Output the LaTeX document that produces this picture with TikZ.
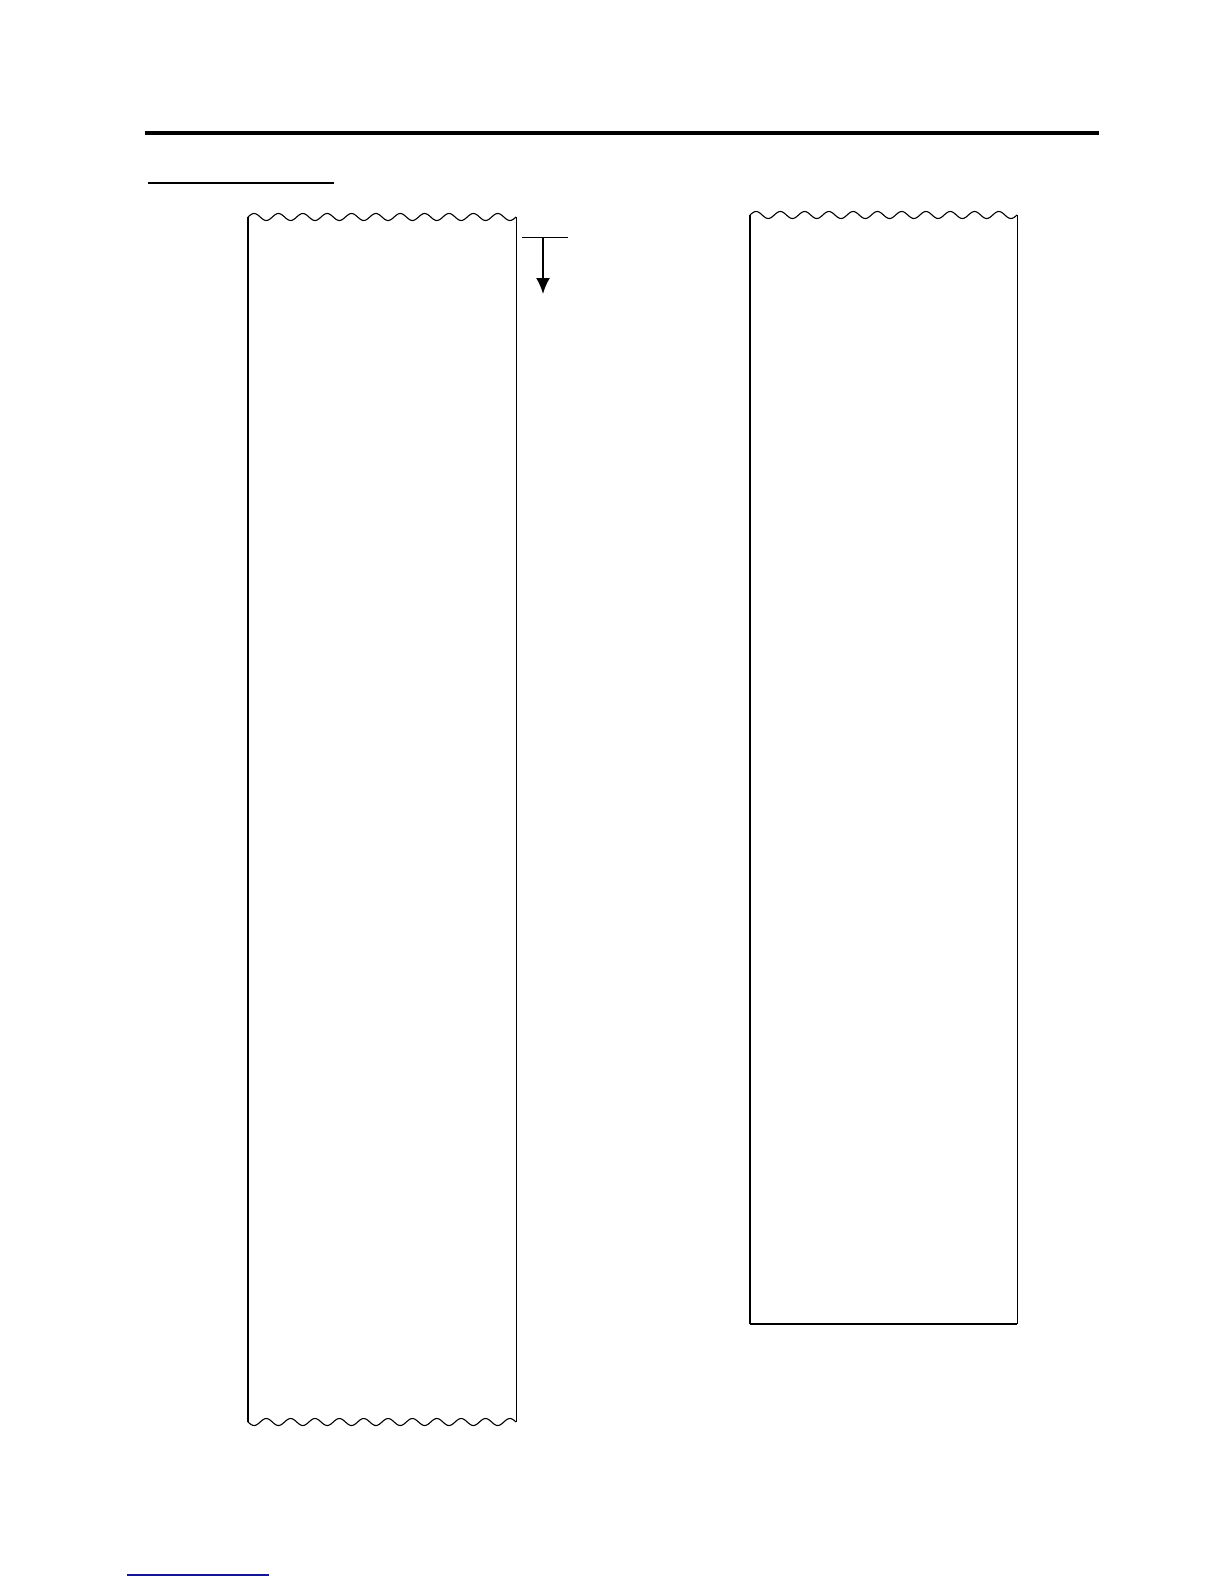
\documentclass[tikz,border=0pt]{standalone}
\usepackage{tikz}
\usetikzlibrary{arrows.meta}
\definecolor{linkblue}{RGB}{20,20,150}

\begin{document}
\begin{tikzpicture}[x=0.5pt,y=-0.5pt,
    edge/.style={line width=1pt},
    thinedge/.style={line width=0.5pt},
    wave/.style={line width=0.55pt}]
            \useasboundingbox (0,0) rectangle (1224,1584);
            \draw[line width=2pt] (145,133) -- (1099,133);
            \draw[line width=1pt] (148,183) -- (334,183);
            % left strip
            \draw[wave] plot[domain=0:268,samples=220] (248+\x,{217-3.5*sin(\x*14.776)});
            \draw[wave] plot[domain=0:268,samples=220] (248+\x,{1422+3.5*sin(\x*14.776)});
            \draw[edge] (248,217) -- (248,1422);
            \draw[thinedge] (516,217) -- (516,1422);
            % feed arrow
            \coordinate (p) at (522,237);
            \coordinate (q) at (568,237);
            \coordinate (s) at (543,237);
            \coordinate (t) at (543,294);
            \draw[thinedge] (p) -- (q);
            \draw[edge,-{Latex[length=8pt,width=7pt]}] (s) -- (t);
            % right strip
            \draw[wave] plot[domain=0:267,samples=220] (750+\x,{215-3.5*sin(\x*14.831)});
            \draw[edge] (750,215) -- (750,1324);
            \draw[thinedge] (1017,215) -- (1017,1324);
            \draw[line width=0.8pt] (750,1324) -- (1017,1324);
            \draw[linkblue,line width=0.75pt] (127,1575) -- (269,1575);
        \end{tikzpicture}
\end{document}
